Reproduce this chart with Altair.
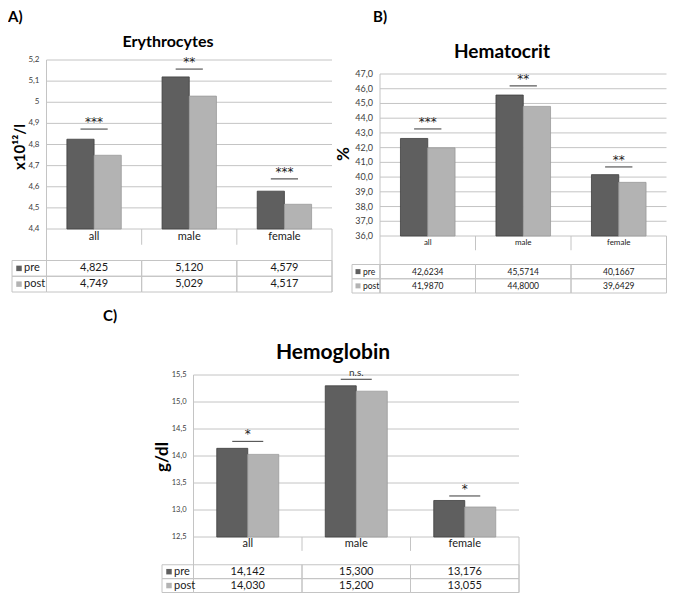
import altair as alt
import pandas as pd

# ---------------- data ----------------
categories = ["all", "male", "female"]
series = ["pre", "post"]

ery_pre = [4.825, 5.120, 4.579]
ery_post = [4.749, 5.029, 4.517]
ery_sig = ["***", "**", "***"]
ery_sig_level = [4.873, 5.157, 4.637]
ery_ticks = [4.4, 4.5, 4.6, 4.7, 4.8, 4.9, 5.0, 5.1, 5.2]
ery_tick_labels = ["4,4", "4,5", "4,6", "4,7", "4,8", "4,9", "5", "5,1", "5,2"]

hct_pre = [42.6234, 45.5714, 40.1667]
hct_post = [41.9870, 44.8000, 39.6429]
hct_sig = ["***", "**", "**"]
hct_sig_level = [43.27, 46.19, 40.69]
hct_ticks = [36, 37, 38, 39, 40, 41, 42, 43, 44, 45, 46, 47]
hct_tick_labels = ["36,0", "37,0", "38,0", "39,0", "40,0", "41,0", "42,0",
                   "43,0", "44,0", "45,0", "46,0", "47,0"]

hgb_pre = [14.142, 15.300, 13.176]
hgb_post = [14.030, 15.200, 13.055]
hgb_sig = ["*", "n.s.", "*"]
hgb_sig_level = [14.27, 15.42, 13.26]
hgb_ticks = [12.5, 13.0, 13.5, 14.0, 14.5, 15.0, 15.5]
hgb_tick_labels = ["12,5", "13,0", "13,5", "14,0", "14,5", "15,0", "15,5"]

# ---------------- style ----------------
FONT = "Lato"
PRE_FILL, POST_FILL = "#5f5f5f", "#b3b3b3"
PRE_STROKE, POST_STROKE = "#3f3f3f", "#9a9a9a"
GRID = "#c4c4c4"
TABLE = "#c4c4c4"
TEXT = "#1a1a1a"
TICKTXT = "#404040"
SIGLINE = "#5a5a5a"
M = 8  # page margin


def one(text):
    return pd.DataFrame({"t": [text]})


def panel(letter, title, ytitle, pre, post, sig, sig_level, ticks, tick_labels,
          decimals, L):
    xl, xr, yt, yb, tl, tb = [L[k] - M for k in ("xl", "xr", "yt", "yb", "tl", "tb")]
    rowh = (tb - yb) / 4.0

    xs = alt.Scale(domain=categories, range=[xl, xr], paddingInner=0, paddingOuter=0)
    ys = alt.Scale(domain=[ticks[0], ticks[-1]], range=[yb, yt], zero=False, nice=False)
    rs = alt.Scale(type="band", domain=["label", "gap", "pre", "post"], range=[yb, tb],
                   paddingInner=0, paddingOuter=0)
    os_ = alt.Scale(domain=series, paddingInner=0, paddingOuter=0.75)
    cs = alt.Scale(domain=series, range=[PRE_FILL, POST_FILL])
    ss = alt.Scale(domain=series, range=[PRE_STROKE, POST_STROKE])
    step = (xr - xl) / 3.0 / 3.5

    tick_df = pd.DataFrame({"v": ticks, "lab": tick_labels})
    bars_df = pd.DataFrame({
        "cat": categories * 2,
        "series": ["pre"] * 3 + ["post"] * 3,
        "value": list(pre) + list(post),
    })
    sig_df = pd.DataFrame({"cat": categories, "level": sig_level, "sig": sig})
    star_df = sig_df[sig_df["sig"] != "n.s."]
    ns_df = sig_df[sig_df["sig"] == "n.s."]
    cat_df = pd.DataFrame({"cat": categories, "row": ["label"] * 3})
    fmt = "{:." + str(decimals) + "f}"
    val_df = pd.DataFrame({
        "cat": categories * 2,
        "row": ["pre"] * 3 + ["post"] * 3,
        "txt": [fmt.format(v).replace(".", ",") for v in list(pre) + list(post)],
    })
    rows_df = pd.DataFrame({"row": series})
    div_df = pd.DataFrame({"cat": categories[1:]})

    X = lambda **kw: alt.X("cat:N", scale=xs, axis=None, **kw)
    R = alt.Y("row:N", scale=rs, axis=None)

    layers = []
    # gridlines
    layers.append(alt.Chart(tick_df).mark_rule(color=GRID, strokeWidth=1).encode(
        y=alt.Y("v:Q", scale=ys, axis=None), x=alt.value(xl), x2=alt.value(xr)))
    # tick labels
    layers.append(alt.Chart(tick_df).mark_text(
        align="right", baseline="middle", font=FONT, fontSize=L["tick_fs"], color=TICKTXT
    ).encode(y=alt.Y("v:Q", scale=ys, axis=None), x=alt.value(xl - 7), text="lab:N"))
    # axis line (left), right edge under plot
    layers.append(alt.Chart(one("")).mark_rule(color=GRID).encode(
        x=alt.value(xl), y=alt.value(yt), y2=alt.value(tb)))
    layers.append(alt.Chart(one("")).mark_rule(color=TABLE).encode(
        x=alt.value(xr), y=alt.value(yb), y2=alt.value(tb)))
    # label-row dividers
    layers.append(alt.Chart(div_df).mark_rule(color=TABLE).encode(
        x=X(bandPosition=0), y=alt.value(yb), y2=alt.value(yb + rowh)))
    # table cells
    layers.append(alt.Chart(val_df).mark_rect(
        fillOpacity=0, stroke=TABLE, strokeWidth=1).encode(x=X(), y=R))
    layers.append(alt.Chart(rows_df).mark_rect(
        fillOpacity=0, stroke=TABLE, strokeWidth=1).encode(
        x=alt.value(tl), x2=alt.value(xl), y=R))
    # bars
    layers.append(alt.Chart(bars_df).mark_bar(strokeWidth=0.8).encode(
        x=X(),
        xOffset=alt.XOffset("series:N", scale=os_, sort=series),
        y=alt.Y("value:Q", scale=ys, axis=None),
        y2=alt.datum(ticks[0]),
        color=alt.Color("series:N", scale=cs, legend=None),
        stroke=alt.Stroke("series:N", scale=ss, legend=None),
    ))
    # significance lines + text
    layers.append(alt.Chart(sig_df).mark_tick(
        orient="horizontal", size=step, thickness=1.2, color=SIGLINE, opacity=1).encode(
        x=X(), y=alt.Y("level:Q", scale=ys, axis=None)))
    if len(star_df):
        layers.append(alt.Chart(star_df).mark_text(
            baseline="alphabetic", dy=-3, font="DejaVu Sans", fontSize=L["sig_fs"],
            color=TEXT).encode(
            x=X(), y=alt.Y("level:Q", scale=ys, axis=None), text="sig:N"))
    if len(ns_df):
        layers.append(alt.Chart(ns_df).mark_text(
            baseline="alphabetic", dy=-3, font=FONT, fontSize=10, color="#333333").encode(
            x=X(), y=alt.Y("level:Q", scale=ys, axis=None), text="sig:N"))
    # category labels
    layers.append(alt.Chart(cat_df).mark_text(
        baseline="middle", font=FONT, fontSize=L["cat_fs"], color=TEXT).encode(
        x=X(), y=R, text="cat:N"))
    # table values
    layers.append(alt.Chart(val_df).mark_text(
        baseline="middle", font=FONT, fontSize=L["val_fs"], color=TEXT).encode(
        x=X(), y=R, text="txt:N"))
    # legend swatches + labels
    layers.append(alt.Chart(rows_df).mark_square(size=L["sw"], opacity=1).encode(
        x=alt.value(tl + L["swx"]), y=R,
        color=alt.Color("row:N", scale=cs, legend=None)))
    layers.append(alt.Chart(rows_df).mark_text(
        align="left", baseline="middle", font=FONT, fontSize=L["val_fs"], color=TEXT).encode(
        x=alt.value(tl + L["swx"] + 5), y=R, text="row:N"))
    # title
    layers.append(alt.Chart(one(title)).mark_text(
        align="center", baseline="middle", font=FONT, fontWeight="bold",
        fontSize=L["title_fs"], color="#000000").encode(
        x=alt.value(L["title_x"] - M), y=alt.value(L["title_y"] - M), text="t:N"))
    # panel letter
    layers.append(alt.Chart(one(letter)).mark_text(
        align="left", baseline="middle", font=FONT, fontWeight="bold",
        fontSize=15, color="#000000").encode(
        x=alt.value(L["let_x"] - M), y=alt.value(L["let_y"] - M), text="t:N"))
    # y title
    layers.append(alt.Chart(one(ytitle)).mark_text(
        align="center", baseline="middle", angle=270, font=FONT, fontWeight="bold",
        fontSize=L["yt_fs"], color="#000000").encode(
        x=alt.value(L["yt_x"] - M), y=alt.value(L["yt_y"] - M), text="t:N"))
    return layers


LA = dict(xl=46.5, xr=332, yt=60, yb=229, tl=12, tb=292,
          tick_fs=8, sig_fs=12, cat_fs=11, val_fs=11, sw=30, swx=7,
          title_x=168, title_y=42, title_fs=16,
          let_x=8, let_y=17, yt_x=20, yt_y=147, yt_fs=15)
LB = dict(xl=380, xr=666.5, yt=74, yb=236, tl=352, tb=293,
          tick_fs=9, sig_fs=12, cat_fs=8, val_fs=8.5, sw=25, swx=6,
          title_x=502, title_y=52, title_fs=19,
          let_x=373, let_y=17, yt_x=344, yt_y=154, yt_fs=17)
LC = dict(xl=193.5, xr=519, yt=375, yb=537, tl=162, tb=592.5,
          tick_fs=7.5, sig_fs=12, cat_fs=11, val_fs=11, sw=30, swx=7,
          title_x=333, title_y=353, title_fs=21,
          let_x=103, let_y=316, yt_x=163, yt_y=457, yt_fs=17)

layers = []
layers += panel("A)", "Erythrocytes", "x10¹²/l", ery_pre, ery_post, ery_sig,
                ery_sig_level, ery_ticks, ery_tick_labels, 3, LA)
layers += panel("B)", "Hematocrit", "%", hct_pre, hct_post, hct_sig,
                hct_sig_level, hct_ticks, hct_tick_labels, 4, LB)
layers += panel("C)", "Hemoglobin", "g/dl", hgb_pre, hgb_post, hgb_sig,
                hgb_sig_level, hgb_ticks, hgb_tick_labels, 3, LC)

chart = alt.layer(*layers).resolve_scale(
    x="independent", y="independent", color="independent",
    stroke="independent", xOffset="independent"
).properties(
    width=659, height=585, padding=0, autosize="none", background="white"
).configure_view(stroke=None)

chart.save("out.html", embed_options={"renderer": "svg", "actions": False})
